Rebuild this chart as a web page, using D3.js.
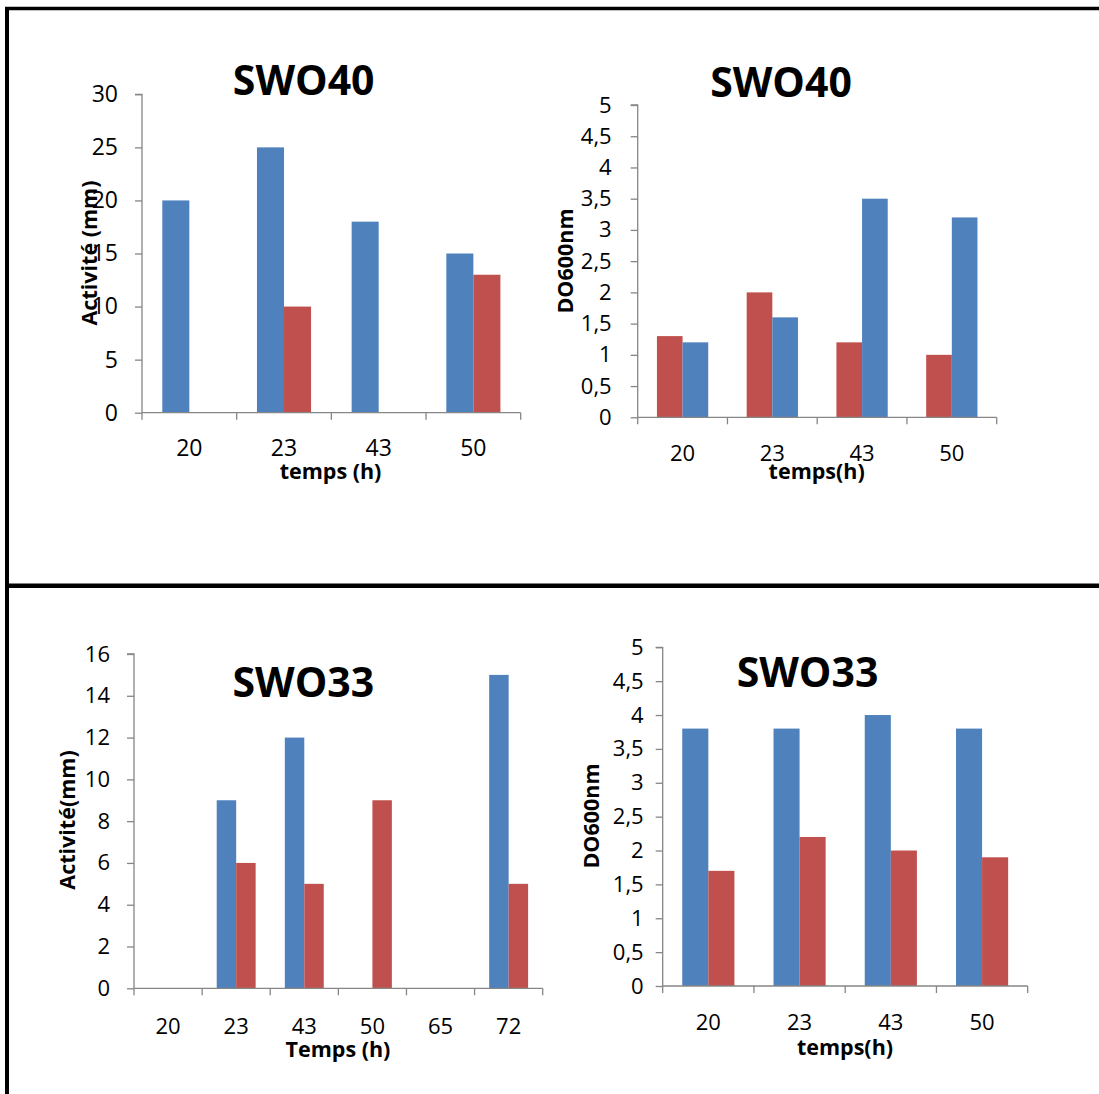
<!DOCTYPE html>
<html>
<head>
<meta charset="utf-8">
<script src="https://cdn.jsdelivr.net/npm/d3@7"></script>
<style>
  html, body { margin: 0; padding: 0; background: #fff; }
  svg { display: block; }
  text { font-family: "Open Sans", "Noto Sans", sans-serif; fill: #000; }
</style>
</head>
<body>
<svg id="fig" width="1099" height="1094"></svg>
<script>
// ---- data ----
const swo40Times = ["20", "23", "43", "50"];
const swo40ActivityBlue = [20, 25, 18, 15];
const swo40ActivityRed = [null, 10, null, 13];
const swo40OdRed = [1.3, 2.0, 1.2, 1.0];
const swo40OdBlue = [1.2, 1.6, 3.5, 3.2];

const swo33ActTimes = ["20", "23", "43", "50", "65", "72"];
const swo33ActivityBlue = [null, 9, 12, null, null, 15];
const swo33ActivityRed = [null, 6, 5, 9, null, 5];

const swo33OdTimes = ["20", "23", "43", "50"];
const swo33OdBlue = [3.8, 3.8, 4.0, 3.8];
const swo33OdRed = [1.7, 2.2, 2.0, 1.9];

const ticksAct30 = [0, 5, 10, 15, 20, 25, 30];
const ticksOd5 = [0, 0.5, 1, 1.5, 2, 2.5, 3, 3.5, 4, 4.5, 5];
const ticksAct16 = [0, 2, 4, 6, 8, 10, 12, 14, 16];

const BLUE = "#4F81BD";
const RED = "#C0504D";
const AXIS = "#868686";

const svg = d3.select("#fig");

// frame lines
svg.append("line").attr("x1", 5).attr("x2", 1099).attr("y1", 8.5).attr("y2", 8.5)
  .attr("stroke", "#000").attr("stroke-width", 3.5);
svg.append("line").attr("x1", 7).attr("x2", 7).attr("y1", 7).attr("y2", 1094)
  .attr("stroke", "#000").attr("stroke-width", 4);
svg.append("line").attr("x1", 5).attr("x2", 1099).attr("y1", 585.8).attr("y2", 585.8)
  .attr("stroke", "#000").attr("stroke-width", 4.5);

const commaFmt = v => String(v).replace(".", ",");

function panel(cfg) {
  const g = svg.append("g");
  const x0 = d3.scaleBand().domain(cfg.categories).range([cfg.x0, cfg.x1]).padding(0);
  // Two bars per category, 150% gap split on both sides
  const x1 = d3.scaleBand().domain(cfg.series.map(s => s.key))
    .range([0, x0.bandwidth()]).paddingInner(0).paddingOuter(0.75);
  const y = d3.scaleLinear().domain(cfg.yDomain).range([cfg.y0, cfg.y1]);

  // bars
  cfg.series.forEach(s => {
    const rows = cfg.categories.map((c, i) => ({ c, v: s.values[i] }))
      .filter(d => d.v != null && d.v > 0);
    g.append("g").selectAll("rect").data(rows).join("rect")
      .attr("x", d => x0(d.c) + x1(s.key))
      .attr("width", x1.bandwidth())
      .attr("y", d => y(d.v))
      .attr("height", d => y(0) - y(d.v))
      .attr("fill", s.color);
  });

  // y axis
  const yAxis = d3.axisLeft(y).tickValues(cfg.yTicks).tickSize(7)
    .tickPadding(cfg.yPad).tickFormat(commaFmt);
  const ya = g.append("g").attr("transform", `translate(${cfg.x0},0)`).call(yAxis);
  ya.select(".domain").attr("stroke", AXIS).attr("stroke-width", 1.3)
    .attr("d", `M-7,${cfg.y1}H0V${cfg.y0}`);
  ya.selectAll(".tick line").attr("stroke", AXIS).attr("stroke-width", 1.3);
  ya.selectAll(".tick text").attr("font-size", cfg.tickFont).attr("fill", "#000")
    .style("font-family", '"Open Sans", sans-serif');

  // x axis: line with boundary ticks, labels centred in categories
  const xa = g.append("g");
  xa.append("line").attr("x1", cfg.x0).attr("x2", cfg.x1).attr("y1", y(0)).attr("y2", y(0))
    .attr("stroke", AXIS).attr("stroke-width", 1.3);
  const bounds = cfg.categories.map(c => x0(c)).concat([cfg.x1]);
  xa.selectAll("line.tk").data(bounds).join("line").attr("class", "tk")
    .attr("x1", d => d).attr("x2", d => d)
    .attr("y1", y(0)).attr("y2", y(0) + 7)
    .attr("stroke", AXIS).attr("stroke-width", 1.3);
  xa.selectAll("text").data(cfg.categories).join("text")
    .attr("x", d => x0(d) + x0.bandwidth() / 2)
    .attr("y", y(0) + cfg.xLabOff)
    .attr("text-anchor", "middle").attr("dominant-baseline", "central")
    .attr("font-size", cfg.tickFont).text(d => d);

  // titles
  g.append("text").attr("x", cfg.title[0]).attr("y", cfg.title[1])
    .attr("text-anchor", "middle").attr("font-size", 41).attr("font-weight", 700)
    .text(cfg.titleText);
  g.append("text").attr("x", cfg.xTitle[0]).attr("y", cfg.xTitle[1])
    .attr("text-anchor", "middle").attr("font-size", 21.5).attr("font-weight", 700)
    .text(cfg.xTitleText);
  g.append("text")
    .attr("transform", `translate(${cfg.yTitle[0]},${cfg.yTitle[1]}) rotate(-90)`)
    .attr("text-anchor", "middle").attr("dominant-baseline", "central")
    .attr("font-size", 21.5).attr("font-weight", 700)
    .text(cfg.yTitleText);
}

// SWO40 activity
panel({
  categories: swo40Times,
  series: [{ key: "b", values: swo40ActivityBlue, color: BLUE },
           { key: "r", values: swo40ActivityRed, color: RED }],
  x0: 142, x1: 520.7, y0: 412.7, y1: 94.3, yDomain: [0, 30], yTicks: ticksAct30,
  yPad: 17, tickFont: 23, xLabOff: 34,
  titleText: "SWO40", title: [303.7, 95],
  xTitleText: "temps (h)", xTitle: [330.5, 479],
  yTitleText: "Activité (mm)", yTitle: [88, 253]
});

// SWO40 optical density
panel({
  categories: swo40Times,
  series: [{ key: "r", values: swo40OdRed, color: RED },
           { key: "b", values: swo40OdBlue, color: BLUE }],
  x0: 637.7, x1: 996.7, y0: 417.3, y1: 105, yDomain: [0, 5], yTicks: ticksOd5,
  yPad: 19, tickFont: 22, xLabOff: 34.5,
  titleText: "SWO40", title: [781, 97],
  xTitleText: "temps(h)", xTitle: [816.7, 479],
  yTitleText: "DO600nm", yTitle: [564, 261]
});

// SWO33 activity
panel({
  categories: swo33ActTimes,
  series: [{ key: "b", values: swo33ActivityBlue, color: BLUE },
           { key: "r", values: swo33ActivityRed, color: RED }],
  x0: 134, x1: 542.7, y0: 988.3, y1: 654, yDomain: [0, 16], yTicks: ticksAct16,
  yPad: 17, tickFont: 22, xLabOff: 36.5,
  titleText: "SWO33", title: [303.3, 697],
  xTitleText: "Temps (h)", xTitle: [338, 1057],
  yTitleText: "Activité(mm)", yTitle: [66, 820]
});

// SWO33 optical density
panel({
  categories: swo33OdTimes,
  series: [{ key: "b", values: swo33OdBlue, color: BLUE },
           { key: "r", values: swo33OdRed, color: RED }],
  x0: 662.7, x1: 1027.7, y0: 986, y1: 647.3, yDomain: [0, 5], yTicks: ticksOd5,
  yPad: 12, tickFont: 22, xLabOff: 35,
  titleText: "SWO33", title: [807.5, 687],
  xTitleText: "temps(h)", xTitle: [845, 1055],
  yTitleText: "DO600nm", yTitle: [590, 816]
});
</script>
</body>
</html>
